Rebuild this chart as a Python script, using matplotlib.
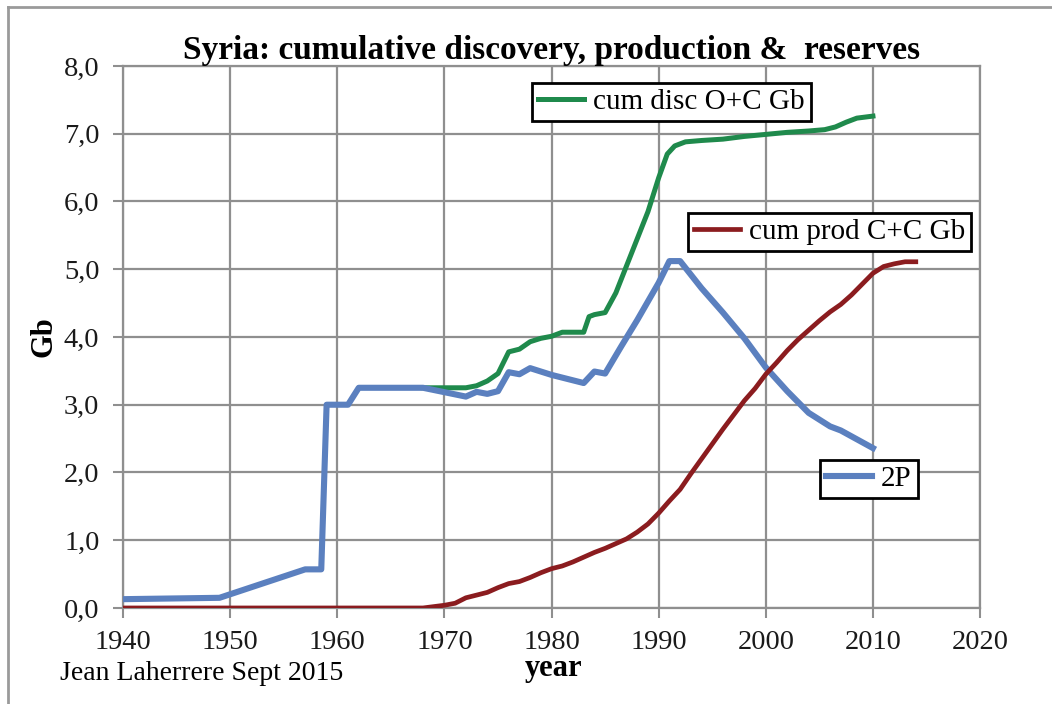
import matplotlib.pyplot as plt
from matplotlib.lines import Line2D
from matplotlib.ticker import FuncFormatter

# ---------------- data ----------------
years_2p = [1940, 1949, 1957, 1958.5, 1959, 1961, 1962, 1968, 1972, 1973, 1974,
            1975, 1976, 1977, 1978, 1980, 1983, 1984, 1985, 1986.5, 1988, 1990,
            1991, 1992, 1994, 1996, 1998, 2000, 2002, 2004, 2006, 2007, 2010]
vals_2p = [0.13, 0.15, 0.57, 0.57, 3.0, 3.0, 3.25, 3.25, 3.12, 3.19, 3.16,
           3.2, 3.48, 3.45, 3.54, 3.44, 3.32, 3.49, 3.46, 3.86, 4.25, 4.8,
           5.12, 5.12, 4.72, 4.36, 3.98, 3.55, 3.2, 2.88, 2.68, 2.62, 2.36]

years_disc = [1968, 1972, 1973, 1974, 1975, 1976, 1977, 1978, 1979, 1980, 1981,
              1983, 1983.5, 1984, 1985, 1986, 1987, 1988, 1989, 1990, 1990.8,
              1991.5, 1992.5, 1994, 1996, 1998, 2000, 2002, 2004, 2005.5,
              2006.5, 2007.5, 2008.5, 2010]
vals_disc = [3.25, 3.25, 3.28, 3.35, 3.46, 3.78, 3.82, 3.93, 3.98, 4.01, 4.07,
             4.07, 4.3, 4.33, 4.36, 4.65, 5.05, 5.45, 5.85, 6.35, 6.7,
             6.82, 6.88, 6.9, 6.92, 6.96, 6.99, 7.02, 7.04, 7.06,
             7.1, 7.17, 7.23, 7.26]

years_prod = [1940, 1968, 1970, 1971, 1972, 1973, 1974, 1975, 1976, 1977, 1978,
              1979, 1980, 1981, 1982, 1983, 1984, 1985, 1986, 1987, 1988, 1989,
              1990, 1991, 1992, 1993, 1994, 1995, 1996, 1997, 1998, 1999, 2000,
              2001, 2002, 2003, 2004, 2005, 2006, 2007, 2008, 2009, 2010, 2011,
              2012, 2013, 2014]
vals_prod = [0.0, 0.0, 0.04, 0.07, 0.15, 0.19, 0.23, 0.3, 0.36, 0.39, 0.45,
             0.52, 0.58, 0.62, 0.68, 0.75, 0.82, 0.88, 0.95, 1.02, 1.12, 1.24,
             1.4, 1.58, 1.75, 1.98, 2.2, 2.42, 2.64, 2.85, 3.06, 3.24, 3.45,
             3.62, 3.8, 3.96, 4.1, 4.24, 4.37, 4.48, 4.62, 4.78, 4.94, 5.04,
             5.08, 5.11, 5.11]

x_ticks = [1940, 1950, 1960, 1970, 1980, 1990, 2000, 2010, 2020]
y_ticks = [0, 1, 2, 3, 4, 5, 6, 7, 8]

# ---------------- graph ----------------
plt.rcParams['font.family'] = ['Liberation Serif', 'DejaVu Serif']
grid_col = '#8f8f8f'

fig = plt.figure(figsize=(10.52, 7.04), dpi=100)
ax = fig.add_axes([0.117, 0.1364, 0.8146, 0.7699])

l_disc, = ax.plot(years_disc, vals_disc, color='#1f8a4c', lw=3.6,
                  label='cum disc O+C Gb', zorder=3)
l_2p, = ax.plot(years_2p, vals_2p, color='#5b80bf', lw=4.4, label='2P', zorder=4)
l_prod, = ax.plot(years_prod, vals_prod, color='#8b1c1f', lw=3.4,
                  label='cum prod C+C Gb', zorder=5)

ax.set_xlim(1940, 2020)
ax.set_ylim(0, 8)
ax.set_xticks(x_ticks)
ax.set_yticks(y_ticks)
ax.yaxis.set_major_formatter(FuncFormatter(lambda v, p: ('%.1f' % v).replace('.', ',')))
ax.tick_params(labelsize=20.5, labelcolor='#1a1a1a', color=grid_col,
               length=7, width=1.5)
ax.tick_params(axis='x', pad=9)
ax.tick_params(axis='y', pad=10)
ax.grid(True, color=grid_col, lw=1.6)
for s in ax.spines.values():
    s.set_color(grid_col)
    s.set_linewidth(1.6)

ax.set_title('Syria: cumulative discovery, production &  reserves',
             fontsize=24, fontweight='bold', pad=5)
ax.set_ylabel('Gb', fontsize=22, fontweight='bold', labelpad=4)
fig.text(0.526, 0.051, 'year', fontsize=22, fontweight='bold',
         ha='center', va='center')
fig.text(0.057, 0.043, 'Jean Laherrere Sept 2015', fontsize=20,
         ha='left', va='center')

leg_opts = dict(loc='upper left', fontsize=21, handlelength=1.6,
                handletextpad=0.3, borderpad=0.2, borderaxespad=0,
                fancybox=False, framealpha=1, edgecolor='black')
leg1 = ax.legend(handles=[l_disc], bbox_to_anchor=(0.477, 0.969), **leg_opts)
leg2 = ax.legend(handles=[l_prod], bbox_to_anchor=(0.659, 0.729), **leg_opts)
leg3 = ax.legend(handles=[l_2p], bbox_to_anchor=(0.813, 0.273), **leg_opts)
for lg in (leg1, leg2, leg3):
    lg.get_frame().set_linewidth(2)
    lg.set_zorder(10)
ax.add_artist(leg1)
ax.add_artist(leg2)

# outer frame of the original picture
fig.add_artist(Line2D([8 / 1052, 1], [1 - 7 / 704, 1 - 7 / 704],
                      color='#9a9a9a', lw=2, transform=fig.transFigure))
fig.add_artist(Line2D([8 / 1052, 8 / 1052], [0, 1 - 7 / 704],
                      color='#9a9a9a', lw=2, transform=fig.transFigure))

fig.savefig('out.png', dpi=100)
